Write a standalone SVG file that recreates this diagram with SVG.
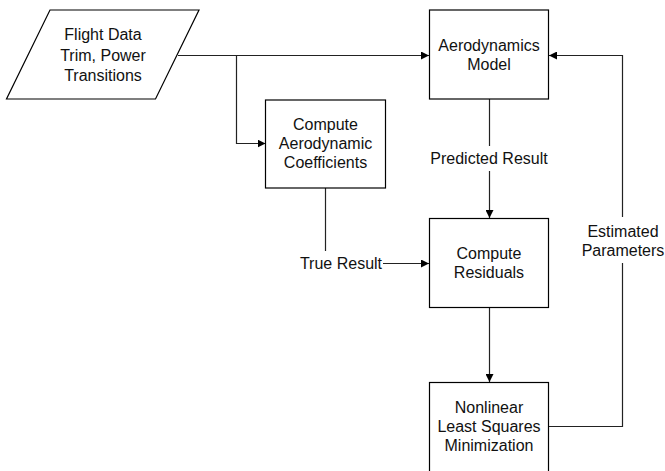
<svg xmlns="http://www.w3.org/2000/svg" width="665" height="471" viewBox="0 0 665 471">
<style>
.box{fill:#fff;stroke:#000;stroke-width:1.2}
.ln{fill:none;stroke:#222;stroke-width:1.2}
text{font-family:"Liberation Sans",Arial,sans-serif;font-size:16px;fill:#111;text-anchor:middle}
</style>
<defs>
<marker id="ah" viewBox="0 0 10 10" refX="10" refY="5" markerWidth="8" markerHeight="8" markerUnits="userSpaceOnUse" orient="auto">
<path d="M0,0 L10,5 L0,10 Z" fill="#000"/>
</marker>
</defs>
<rect width="665" height="471" fill="#fff"/>
<g id="connectors">
<path class="ln" d="M178,55.5 H429" marker-end="url(#ah)"/>
<path class="ln" d="M236.5,55.5 V143.5 H265.5" marker-end="url(#ah)"/>
<path class="ln" d="M325.5,188 V251"/>
<path class="ln" d="M383,263.5 H429" marker-end="url(#ah)"/>
<path class="ln" d="M489.5,99 V146"/>
<path class="ln" d="M489.5,171 V218" marker-end="url(#ah)"/>
<path class="ln" d="M489.5,308 V382" marker-end="url(#ah)"/>
<path class="ln" d="M549,426.5 H622.5 V263"/>
<path class="ln" d="M622.5,217 V55.5 H549" marker-end="url(#ah)"/>
<text x="489" y="164">Predicted Result</text>
<text x="341" y="269">True Result</text>
<text x="623" y="237">Estimated</text>
<text x="623" y="256">Parameters</text>
</g>
<g id="flight-data">
<path class="box" d="M50,10 H199 L155.5,99 H6.5 Z"/>
<text x="103" y="40">Flight Data</text>
<text x="103" y="61">Trim, Power</text>
<text x="103" y="81">Transitions</text>
</g>
<g id="compute-coeffs">
<rect class="box" x="265.5" y="100" width="120" height="88"/>
<text x="325.5" y="130">Compute</text>
<text x="325.5" y="149">Aerodynamic</text>
<text x="325.5" y="168">Coefficients</text>
</g>
<g id="aero-model">
<rect class="box" x="429.5" y="10" width="119" height="89"/>
<text x="489" y="51">Aerodynamics</text>
<text x="489" y="70">Model</text>
</g>
<g id="compute-residuals">
<rect class="box" x="429.5" y="218.5" width="119" height="89"/>
<text x="489" y="259">Compute</text>
<text x="489" y="278">Residuals</text>
</g>
<g id="nonlinear">
<rect class="box" x="429.5" y="382.5" width="119" height="95"/>
<text x="489" y="413">Nonlinear</text>
<text x="489" y="432">Least Squares</text>
<text x="489" y="451">Minimization</text>
</g>
</svg>
